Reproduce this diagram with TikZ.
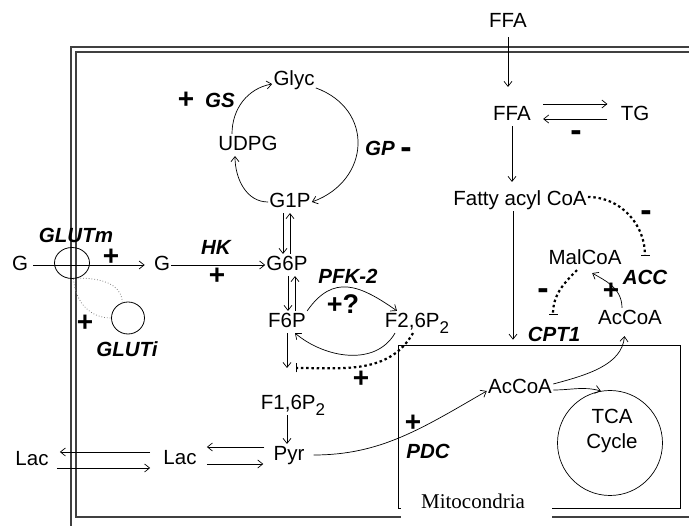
\documentclass[tikz,border=0pt]{standalone}
\usepackage{fontspec}
\setmainfont{Liberation Sans}
\newfontfamily\mitofont{Liberation Serif}
\usepackage{tikz}
\usetikzlibrary{shapes.geometric,arrows.meta,positioning,calc}

\newcommand{\lowtwo}{\raisebox{-0.55ex}{\fontsize{17}{17}\selectfont 2}}

\begin{document}
\begin{tikzpicture}[
  x=1pt, y=-1pt,
  >={Straight Barb[length=5pt,width=8pt]},
  line width=0.7pt,
  every node/.style={inner sep=1pt, font=\fontsize{20.5}{25}\selectfont},
  met/.style={text height=15.5pt, text depth=4pt},
  enz/.style={font=\fontsize{20.5}{25}\selectfont\bfseries\itshape},
  sgn/.style={font=\fontsize{28}{30}\selectfont\bfseries},
  neg/.style={font=\fontsize{34}{30}\selectfont\bfseries},
  transp/.style={draw, ellipse, inner sep=0pt, line width=0.8pt},
  glutlink/.style={draw=black!50, line width=0.8pt, dotted},
  inhib/.style={line width=2.2pt, dash pattern=on 2.5pt off 2.8pt,
                -{Bar[width=9pt,line width=1.2pt]}},
  membrane/.style={line width=1.3pt, draw=black!75}
]
\useasboundingbox (0,0) rectangle (689,526);

\draw[membrane] (689,47) -- (71,47) -- (71,526);
\draw[membrane] (689,52) -- (76,52) -- (76,517) -- (689,517);

\node (mito) [draw, inner sep=0pt, minimum width=282pt, minimum height=163pt] at (539,426.5) {};
\fill[white] (401,493) rectangle (552,527);
\node (mitolbl) [font=\mitofont\fontsize{21}{24}\selectfont] at (473,501) {Mitocondria};

\node (gout)   [met] at (20,265)  {G};
\node (gin)    [met] at (162,265) {G};
\node (g6p)    [met] at (287,265) {G6P};
\node (glyc)   [met] at (294,80)  {Glyc};
\node (udpg)   [met] at (248,145) {UDPG};
\node (g1p)    [met] at (290,202) {G1P};
\node (f6p)    [met, below of=g6p, node distance=57pt] {F6P};
\node (f26p)   [met] at (417,322) {F2,6P\lowtwo};
\node (f16p)   [met] at (293,404) {F1,6P\lowtwo};
\node (pyr)    [met] at (289,455) {Pyr};
\node (lacin)  [met] at (180,459) {Lac};
\node (lacout) [met] at (32,460)  {Lac};

\node (ffaout) [met] at (508,22)  {FFA};
\node (ffain)  [met] at (512,115) {FFA};
\node (tg)     [met, right of=ffain, node distance=123pt] {TG};
\node (fac)    [met] at (520,200) {Fatty acyl CoA};
\node (malcoa) [met] at (585,259) {MalCoA};
\node (accout) [met] at (630,319) {AcCoA};
\node (accmito)[met] at (520,388) {AcCoA};
\node (tca)    [draw, circle, minimum size=105pt] at (610,443) {};
\node (tcalbl) [align=center] at (612,431) {TCA\\Cycle};

\node (glutm)  [transp, minimum width=35pt, minimum height=31pt] at (72,263) {};
\node (gluti)  [transp, minimum width=33pt, minimum height=32pt] at (128,318) {};

\node (glutmlbl) [enz] at (76,235)  {GLUTm};
\node (glutilbl) [enz] at (127,349) {GLUTi};
\node (hklbl)    [enz] at (216,247) {HK};
\node (gslbl)    [enz] at (220,100) {GS};
\node (gplbl)    [enz] at (380,148) {GP};
\node (pfklbl)   [enz] at (348,276) {PFK-2};
\node (pdclbl)   [enz] at (428,451) {PDC};
\node (cptlbl)   [enz] at (554,334) {CPT1};
\node (acclbl)   [enz] at (645,277) {ACC};

\node (glutmup)  [sgn] at (111,257) {+};
\node (glutiup)  [sgn] at (85,323)  {+};
\node (hkup)     [sgn] at (217,276) {+};
\node (gsup)     [sgn] at (186,100) {+};
\node (gpdown)   [neg] at (406,153) {-};
\node (pfkq)     [sgn, font=\fontsize{27}{30}\selectfont\bfseries] at (343,304) {+?};
\node (pfkup)    [sgn] at (361,379) {+};
\node (tgdown)   [neg] at (576,136) {-};
\node (accdown)  [neg] at (646,216) {-};
\node (cptdown)  [neg] at (543,294) {-};
\node (accup)    [sgn] at (611,291) {+};
\node (pdcup)    [sgn] at (413,423) {+};

\coordinate (pfk1)    at (287,368);
\coordinate (pfkstop) at (296,368);
\coordinate (accstop) at (645,256);
\coordinate (cptstop) at (553,315);

\draw[->, shorten <=4pt, shorten >=8pt] (gout) -- (gin);
\draw[->] (gin) -- (g6p);
\draw[glutlink] (glutm.-70) .. controls (112,278) and (122,290) .. (gluti.110);
\draw[glutlink] (glutm.-85) .. controls (76,305) and (92,318) .. (gluti.west);

\draw[->] (glyc.-20) to[out=-20, in=20, looseness=1.4] (g1p.east);
\draw[->] (g1p.west) to[out=180, in=-90] ([xshift=-13pt]udpg.south);
\draw[->] ([xshift=-16pt]udpg.north) to[out=90, in=-170] ([yshift=-4pt]glyc.west);

\draw[->] ([xshift=-7pt]g1p.south) -- ([xshift=-7pt]g1p.south |- g6p.north);
\draw[->] (g1p.south |- g6p.north) -- (g1p.south);
\draw[->] ([xshift=1pt]g6p.south) -- ([xshift=1pt]g6p.south |- f6p.north);
\draw[->] ([xshift=8pt]g6p.south |- f6p.north) -- ([xshift=8pt]g6p.south);
\draw[->] (f6p.south -| pfk1) -- (pfk1);
\draw[->] ([xshift=-2pt]pyr.north |- f16p.south) -- ([xshift=-2pt]pyr.north);

\draw[->] (f6p.north east) to[out=55, in=145, looseness=1.3] ([xshift=-20pt]f26p.north);
\draw[->] ([xshift=-22pt]f26p.south) to[out=-120, in=-40] ([xshift=8pt]f6p.south);
\draw[inhib] ([xshift=-4pt]f26p.south) to[out=-120, in=0] (pfkstop);

\draw[->, shorten <=8pt, shorten >=9pt] ([yshift=8pt]pyr.west) -- ([yshift=8pt]pyr.west -| lacin.east);
\draw[->, shorten <=9pt, shorten >=9pt] ([yshift=-5pt]lacin.east) -- ([yshift=-5pt]lacin.east -| pyr.west);
\draw[->, shorten <=12pt, shorten >=10pt] ([yshift=7pt]lacin.west) -- ([yshift=7pt]lacin.west -| lacout.east);
\draw[->, shorten <=7pt, shorten >=12pt] ([yshift=-8pt]lacout.east) -- ([yshift=-8pt]lacout.east -| lacin.west);

\draw[->, shorten <=4pt, shorten >=17pt] (ffaout.south) -- (ffaout.south |- ffain.north);
\draw[->, shorten <=11pt, shorten >=12pt] ([yshift=11pt]ffain.east) -- ([yshift=11pt]ffain.east -| tg.west);
\draw[->, shorten <=12pt, shorten >=11pt] ([yshift=-4pt]tg.west) -- ([yshift=-4pt]tg.west -| ffain.east);
\draw[->, shorten >=7pt] (ffain.south) -- (ffain.south |- fac.north);
\draw[->, shorten >=5pt] ([xshift=-7pt]fac.south) -- ([xshift=-7pt]fac.south |- mito.north);

\draw[inhib] ([yshift=3pt]fac.east) to[out=0, in=90] (accstop);
\draw[inhib] ([xshift=-8pt]malcoa.south) to[out=-135, in=90] (cptstop);

\draw[->, shorten <=8pt] (pyr.east) to[out=0, in=-150] ([yshift=-3pt]accmito.west);
\draw[->] ([yshift=-2pt]accmito.east) to[out=0, in=165] (tca.100);
\draw[->, shorten >=6pt] ([yshift=4pt]accmito.east) to[out=15, in=-95] ([xshift=-5pt]accout.south);
\draw[->, shorten >=6pt] ([xshift=-8pt]accout.north) to[out=90, in=-30] ([xshift=2pt]malcoa.south);
\end{tikzpicture}
\end{document}
